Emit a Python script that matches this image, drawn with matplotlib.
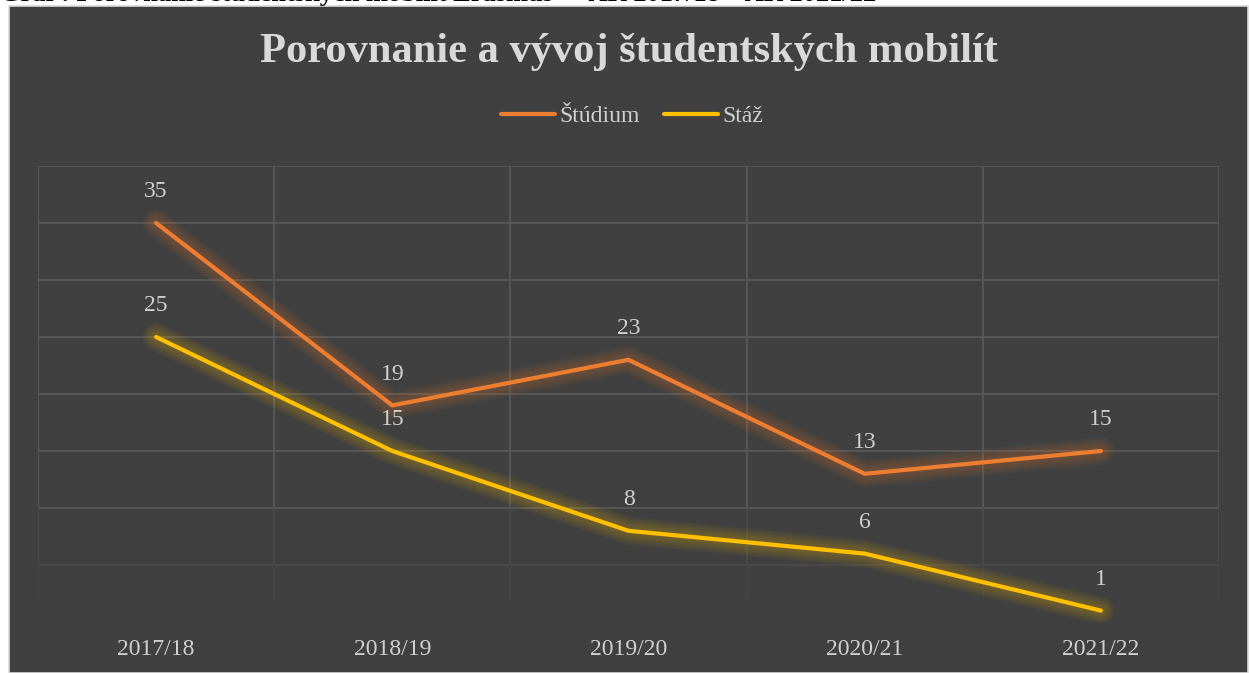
import matplotlib
matplotlib.use('Agg')
import matplotlib.pyplot as plt
from matplotlib.patches import Rectangle

years = ['2017/18', '2018/19', '2019/20', '2020/21', '2021/22']
studium = [35, 19, 23, 13, 15]
staz = [25, 15, 8, 6, 1]

ORANGE = '#ED7D31'
YELLOW = '#FFC000'
BG = '#404040'
TXT = '#d0d0d0'
GRID = '#5a5a5a'

plt.rcParams['font.family'] = ['Liberation Serif', 'DejaVu Serif']

fig = plt.figure(figsize=(12.49, 6.73), dpi=100)
fig.patch.set_facecolor('white')

# dark chart panel
fig.patches.append(Rectangle((9 / 1249, 0), 1239 / 1249, 1 - 6 / 673,
                             transform=fig.transFigure, facecolor=BG,
                             edgecolor='#d9d9d9', linewidth=1.2, zorder=-10))

# caption of the page, cut off at the top edge like in the source
fig.text(0.0, 1 - 1.5 / 673, 'Graf : Porovnanie študentských mobilít Erasmus+ - AR 2017/18 – AR 2021/22',
         fontsize=19, fontweight='bold', color='black', va='baseline', ha='left', zorder=-5)

ax = fig.add_axes([38 / 1249, 1 - 622 / 673, (1219 - 38) / 1249, (622 - 166) / 673])
ax.set_facecolor('none')
ax.set_xlim(-0.5, 4.5)
ax.set_ylim(0, 40)
x = list(range(len(years)))

# gridlines (fade toward the bottom)
for v in range(10, 45, 5):
    ax.axhline(v, color=GRID, lw=1.2, zorder=1)
ax.axhline(5, color='#4b4b4b', lw=1.2, zorder=1)
for xv in [-0.5, 0.5, 1.5, 2.5, 3.5, 4.5]:
    ax.plot([xv, xv], [10, 40], color=GRID, lw=1.2, zorder=1)
    ax.plot([xv, xv], [5, 10], color='#4b4b4b', lw=1.2, zorder=1)
    ax.plot([xv, xv], [2, 5], color='#454545', lw=1.2, zorder=1)

# soft glow around the lines
for series, col in [(studium, ORANGE), (staz, YELLOW)]:
    for w in range(6, 22, 2):
        ax.plot(x, series, color=col, lw=w, alpha=0.035, solid_capstyle='round',
                solid_joinstyle='round', zorder=2)

ax.plot(x, studium, color=ORANGE, lw=3, solid_capstyle='round', label='Štúdium', zorder=3)
ax.plot(x, staz, color=YELLOW, lw=3, solid_capstyle='round', label='Stáž', zorder=3)

for series in (studium, staz):
    for xi, v in zip(x, series):
        ax.annotate(str(v), (xi, v), xytext=(0, 22.5), textcoords='offset points',
                    ha='center', va='center', fontsize=17, color=TXT, zorder=4)

ax.set_xticks(x)
ax.set_xticklabels(years, fontsize=17, color=TXT)
ax.set_yticks([])
ax.tick_params(axis='x', length=0, pad=12)
for s in ax.spines.values():
    s.set_visible(False)

fig.text(629 / 1249, 1 - 52 / 673, 'Porovnanie a vývoj študentských mobilít',
         fontsize=30.6, fontweight='bold', color='#d9d9d9', ha='center', va='center')

leg = fig.legend(loc='center', bbox_to_anchor=(632 / 1249, 1 - 116 / 673), ncol=2,
                 frameon=False, fontsize=17, labelcolor=TXT, handlelength=2.3,
                 handletextpad=0.2, columnspacing=1.0)
for h in leg.get_lines():
    h.set_linewidth(3)
    h.set_solid_capstyle('round')

fig.savefig('out.png', dpi=100, facecolor='white')
